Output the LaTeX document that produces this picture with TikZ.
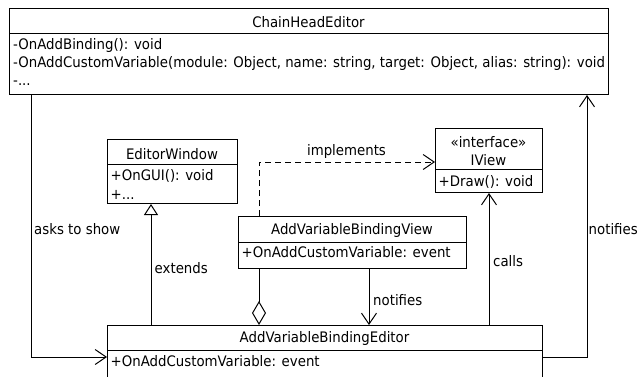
\documentclass[tikz,border=0pt]{standalone}
\usepackage{fontspec}
\setmainfont{DejaVu Sans}[FakeStretch=0.919]
\usetikzlibrary{arrows.meta}
\begin{document}
\begin{tikzpicture}[x=1pt,y=-1pt,
  cls/.style={draw, line width=1pt, inner sep=0pt, anchor=north west},
  txt/.style={inner sep=0pt, anchor=base west, font=\fontsize{14.5}{17}\selectfont},
  ttl/.style={inner sep=0pt, anchor=base, font=\fontsize{14.5}{17}\selectfont},
  link/.style={line width=1pt},
  barb/.style={-{Straight Barb[length=11pt,width=15pt,line width=1pt]}},
  gen/.style={{Triangle[open,length=11pt,width=14pt,line width=1pt]}-},
  agg/.style={{Diamond[open,length=24pt,width=14pt,line width=1pt]}-},
]
\useasboundingbox (0,0) rectangle (638,376);
\clip (0,0) rectangle (638,376);

% ---- classes ----
\node[cls, minimum width=599pt, minimum height=86pt] (che) at (9,8) {};
\draw[link] ([yshift=-25pt]che.north west) -- ([yshift=-25pt]che.north east);
\node[ttl] (che-t) at (308.5,27.5) {ChainHeadEditor};
\node[txt] (che-m1) at (13,49.5) {-OnAddBinding(): void};
\node[txt] (che-m2) at (13,67.5) {-OnAddCustomVariable(module: Object, name: string, target: Object, alias: string): void};
\node[txt] (che-m3) at (13,85.5) {-...};

\node[cls, minimum width=130pt, minimum height=64pt] (ew) at (107,139) {};
\draw[link] ([yshift=-25pt]ew.north west) -- ([yshift=-25pt]ew.north east);
\node[ttl] (ew-t) at (172,159) {EditorWindow};
\node[txt] (ew-m1) at (110.5,180) {+OnGUI(): void};
\node[txt] (ew-m2) at (110.5,199) {+...};

\node[cls, minimum width=107pt, minimum height=64pt] (iv) at (435,128) {};
\draw[link] ([yshift=-41pt]iv.north west) -- ([yshift=-41pt]iv.north east);
\node[ttl] (iv-s) at (488.5,147.5) {«interface»};
\node[ttl] (iv-t) at (488.5,165.5) {IView};
\node[txt] (iv-m1) at (438.5,186.5) {+Draw(): void};

\node[cls, minimum width=228pt, minimum height=52pt] (avbv) at (238,216) {};
\draw[link] ([yshift=-26pt]avbv.north west) -- ([yshift=-26pt]avbv.north east);
\node[ttl] (avbv-t) at (352,234) {AddVariableBindingView};
\node[txt] (avbv-m1) at (241.5,257.5) {+OnAddCustomVariable: event};

\node[cls, minimum width=435pt, minimum height=70pt] (avbe) at (107,325) {};
\draw[link] ([yshift=-25pt]avbe.north west) -- ([yshift=-25pt]avbe.north east);
\node[ttl] (avbe-t) at (324.5,342) {AddVariableBindingEditor};
\node[txt] (avbe-m1) at (110.5,366.5) {+OnAddCustomVariable: event};

% ---- relations ----
\draw[link, barb] ([xshift=22pt]che.south west) |- ([yshift=-32pt]avbe.north west);
\node[txt] (l-asks) at (34,234) {asks to show};

\draw[link, gen] ([xshift=44pt]ew.south west) -- ([xshift=44pt]avbe.north west);
\node[txt] (l-ext) at (154.5,273) {extends};

\draw[link, agg] ([xshift=152pt]avbe.north west) -- ([xshift=21pt]avbv.south west);

\draw[link, barb] ([xshift=131pt]avbv.south west) -- ([xshift=262pt]avbe.north west);
\node[txt] (l-not1) at (373,305) {notifies};

\draw[link, barb] ([xshift=382pt]avbe.north west) -- ([xshift=54pt]iv.south west);
\node[txt] (l-calls) at (493,266.5) {calls};

\coordinate (turn) at (587,357);
\draw[link, barb] (avbe.east |- turn) -- (turn) -- (turn |- che.south);
\node[txt] (l-not2) at (588.5,234) {notifies};

\coordinate (bend) at (259,162);
\draw[link, dashed, dash pattern=on 6pt off 4pt, barb] (avbv.north -| bend) -- (bend) -- (bend -| iv.west);
\node[ttl] (l-impl) at (346.5,155) {implements};
\end{tikzpicture}
\end{document}
